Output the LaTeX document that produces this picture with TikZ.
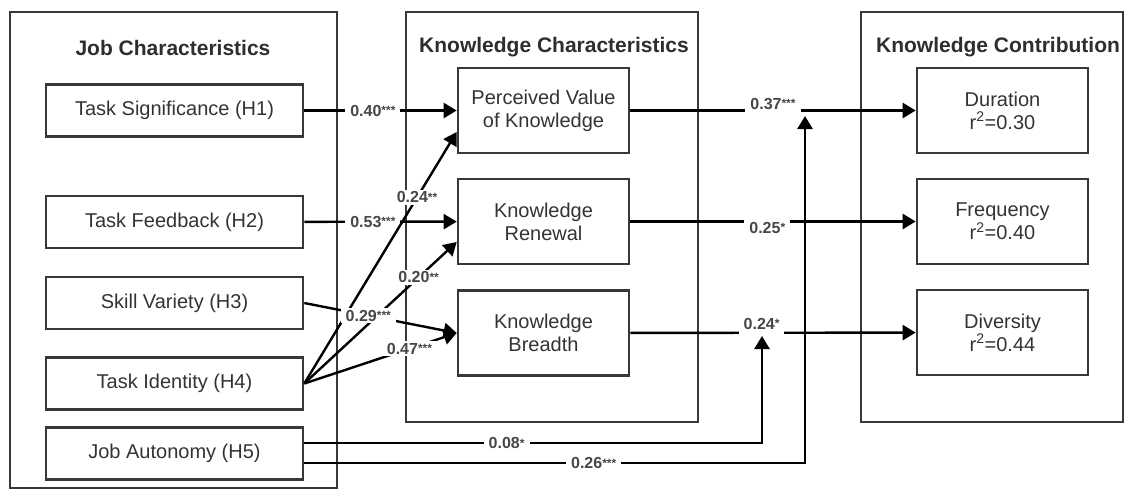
\documentclass[tikz,border=0pt]{standalone}
\usepackage{fontspec}
\setmainfont{Liberation Sans}
\usetikzlibrary{arrows.meta}
\newcommand{\sig}[1]{\raisebox{1.5pt}{\fontsize{12}{12}\selectfont #1}}

\begin{document}
\begin{tikzpicture}[x=1pt, y=-1pt,
    outer/.style={draw=black!78, line width=2.6pt, minimum height=410pt, inner sep=0pt},
    jobbox/.style={draw=black!78, line width=2.6pt, minimum width=257pt, minimum height=52pt, font=\fontsize{20}{23}\selectfont, text=black!80},
    knowbox/.style={draw=black!78, line width=2.6pt, minimum width=171pt, minimum height=85pt, align=center, font=\fontsize{20}{23}\selectfont, text=black!80},
    title/.style={font=\fontsize{21}{25}\selectfont\bfseries, text=black!82},
    arr/.style={draw=black, line width=2.4pt, -{Triangle[length=13pt,width=15pt]}},
    lbl/.style={fill=white, inner xsep=5pt, inner ysep=2pt, font=\fontsize{16}{18}\selectfont\bfseries, text=black!72}]
\useasboundingbox (0,0) rectangle (1128,491);

\node[outer, minimum width=327pt, minimum height=476pt] (JC) at (173.5,250) {};
\node[outer, minimum width=292pt] (KC) at (552,217) {};
\node[outer, minimum width=262pt] (KO) at (992,217) {};
\node[title] (JCt) at (173,48) {Job Characteristics};
\node[title] (KCt) at (554,47) {Knowledge Characteristics};
\node[title] (KOt) at (998,47) {Knowledge Contribution};

\node[jobbox] (H1) at (174.5,110.5) {Task Significance (H1)};
\node[jobbox] (H2) at (174.5,222) {Task Feedback (H2)};
\node[jobbox] (H3) at (174.5,303) {Skill Variety (H3)};
\node[jobbox] (H4) at (174.5,383.5) {Task Identity (H4)};
\node[jobbox] (H5) at (174.5,453.5) {Job Autonomy (H5)};

\node[knowbox] (PV) at (543.5,110.5) {Perceived Value\\of Knowledge};
\node[knowbox] (KR) at (543.5,221.5) {Knowledge\\Renewal};
\node[knowbox] (KB) at (543.5,333) {Knowledge\\Breadth};

\node[knowbox] (DU) at (1002.5,110.5) {Duration\\r\textsuperscript{2}=0.30};
\node[knowbox] (FR) at (1002.5,221.5) {Frequency\\r\textsuperscript{2}=0.40};
\node[knowbox] (DI) at (1002.5,332.5) {Diversity\\r\textsuperscript{2}=0.44};

\draw[arr] (H1) -- (PV) node[lbl, pos=0.45] {0.40\sig{***}};
\draw[arr] (H2) -- (KR) node[lbl, pos=0.45] {0.53\sig{***}};
\draw[arr] (H4.east) -- ([yshift=-21.5pt]PV.west) node[lbl, pos=0.74] {0.24\sig{**}};
\draw[arr] (H4.east) -- ([yshift=-20.5pt]KR.west) node[lbl, pos=0.75] {0.20\sig{**}};
\draw[arr] (H4.east) -- (KB.west) node[lbl, pos=0.69] {0.47\sig{***}};
\draw[arr] (H3.east) -- (KB.west) node[lbl, pos=0.42] {0.29\sig{***}};

\draw[arr] (PV) -- (DU) node[lbl, pos=0.5, yshift=7pt, minimum height=26pt] {0.37\sig{***}};
\draw[arr] (KR) -- (FR) node[lbl, pos=0.48, yshift=-6pt, minimum height=24pt] {0.25\sig{*}};
\draw[arr] (KB) -- (DI) node[lbl, pos=0.46, yshift=9pt, minimum height=26pt] {0.24\sig{*}};

\coordinate (M1) at (762,336);
\coordinate (M2) at (805,116);
\draw[arr] ([yshift=10.5pt]H5.east) -| (M1) node[lbl, pos=0.221] {0.08\sig{*}};
\draw[arr] ([yshift=-9.5pt]H5.east) -| (M2) node[lbl, pos=0.289] {0.26\sig{***}};
\end{tikzpicture}
\end{document}
